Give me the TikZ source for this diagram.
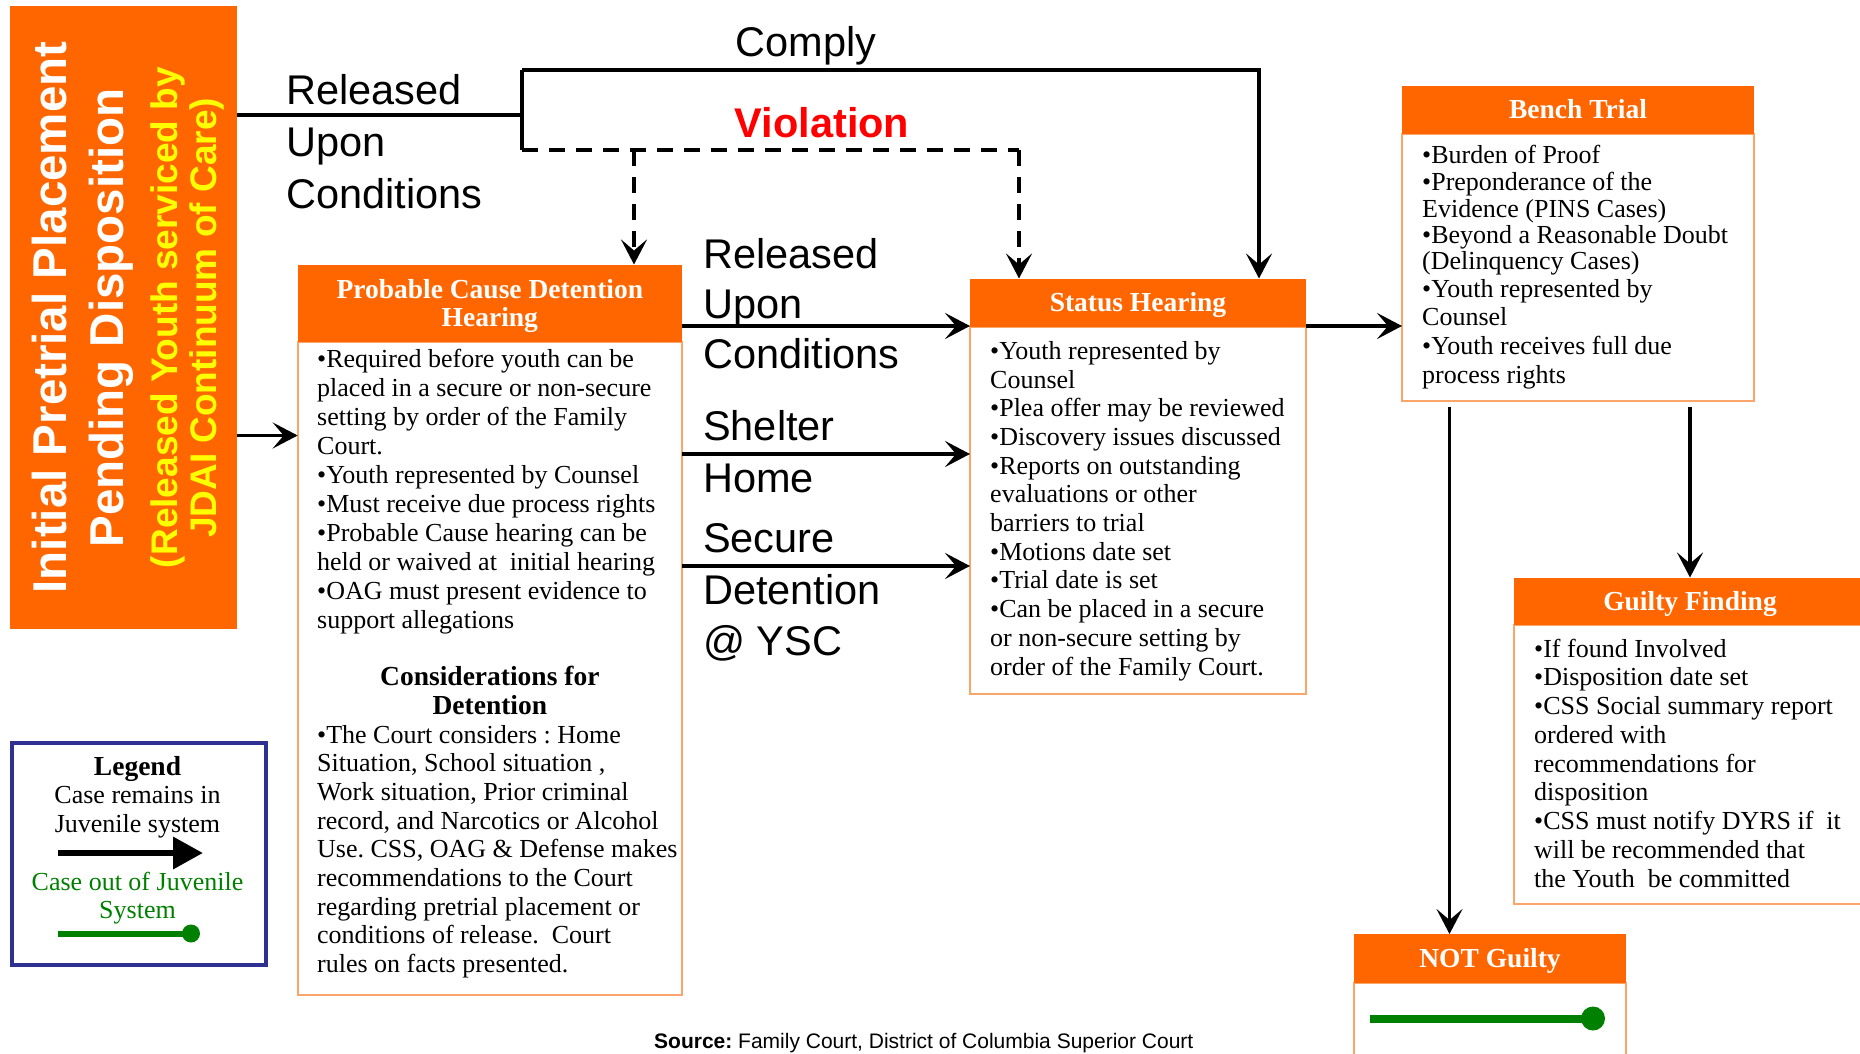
\documentclass[tikz,border=0pt]{standalone}
\usepackage{fontspec}
\setmainfont{Liberation Serif}
\newfontfamily\arialf{Liberation Sans}
\usetikzlibrary{arrows.meta}
\definecolor{orng}{HTML}{FF6600}
\definecolor{lorng}{HTML}{F9A56C}
\definecolor{navyb}{HTML}{2E3192}
\definecolor{okgreen}{HTML}{008000}
\definecolor{ylw}{HTML}{FFFF00}
\definecolor{redv}{HTML}{FF0000}
\frenchspacing
\tikzset{
  hdr/.style={rectangle, fill=orng, draw=none, inner sep=0pt, outer sep=0pt},
  bdy/.style={rectangle, draw=lorng, line width=2pt, fill=white, inner sep=0pt, outer sep=0pt},
  htxt/.style={text=white, font=\fontsize{27.5}{30}\selectfont\bfseries, inner sep=0pt, anchor=base},
  btxt/.style={font=\fontsize{26}{28.8}\selectfont, inner sep=0pt, anchor=base west},
  ctxt/.style={font=\fontsize{26}{28.8}\selectfont, inner sep=0pt, anchor=base},
  lbl/.style={font=\arialf\fontsize{41.5}{50}\selectfont, inner sep=0pt, anchor=base west},
  rottxt/.style={rotate=90, anchor=base, inner sep=0pt},
  wire/.style={line width=3.6pt},
  conn/.style={line width=3.6pt, -{Stealth[length=25pt,width=26pt,inset=11pt]}},
  dsh/.style={dash pattern=on 16pt off 11pt},
}
\begin{document}
\begin{tikzpicture}[x=1pt,y=-1pt]
\useasboundingbox (0,0) rectangle (1860,1054);
\clip (0,0) rectangle (1860,1054);
\fill[white] (0,0) rectangle (1860,1054);

% ---------- left box ----------
\node[hdr, minimum width=227.5pt, minimum height=623pt] (lb) at (123.25,317.5) {};
\node[rottxt, text=white, font=\arialf\bfseries\fontsize{47.5}{57}\selectfont] (lt1) at (66,317.5) {Initial Pretrial Placement};
\node[rottxt, text=white, font=\arialf\bfseries\fontsize{47.5}{57}\selectfont] (lt2) at (123,318) {Pending Disposition};
\node[rottxt, text=ylw, font=\arialf\bfseries\fontsize{37}{42}\selectfont] (ly1) at (177,317.5) {(Released Youth serviced by};
\node[rottxt, text=ylw, font=\arialf\bfseries\fontsize{37}{42}\selectfont] (ly2) at (216,318) {JDAI Continuum of Care)};

% ---------- top labels ----------
\node[lbl] (rl1) at (286,105) {Released};
\node[lbl] (rl2) at (286,157) {Upon};
\node[lbl] (rl3) at (286,208) {Conditions};
\node[lbl, anchor=base] (comply) at (806,57) {Comply};
\node[lbl, anchor=base, text=redv, font=\arialf\bfseries\fontsize{41.5}{50}\selectfont] (viol) at (822,137.5) {Violation};

% ---------- middle labels ----------
\node[lbl] (ml1) at (703,268) {Released};
\node[lbl] (ml2) at (703,318) {Upon};
\node[lbl] (ml3) at (703,368) {Conditions};
\node[lbl] (ml4) at (703,440) {Shelter};
\node[lbl] (ml5) at (703,492) {Home};
\node[lbl] (ml6) at (703,552) {Secure};
\node[lbl] (ml7) at (703,604) {Detention};
\node[lbl] (ml8) at (703,655) {@ YSC};

% ---------- Probable cause box ----------
\node[bdy, minimum width=384.3pt, minimum height=653.4pt] (pcb) at (489.85,668.3) {};
\node[hdr, minimum width=384.3pt, minimum height=77.1pt] (pch) at (489.85,303.05) {};
\node[htxt] (pct1) at (489.85,298) {Probable Cause Detention};
\node[htxt] (pct2) at (489.85,326.5) {Hearing};
\foreach \t [count=\i] in {%
 {•Required before youth can be},%
 {placed in a secure or non-secure},%
 {setting by order of the Family},%
 {Court.},%
 {•Youth represented by Counsel},%
 {•Must receive due process rights},%
 {•Probable Cause hearing can be},%
 {held or waived at~ initial hearing},%
 {•OAG must present evidence to},%
 {support allegations}}%
 {\node[btxt] (pca\i) at (317,{367+(\i-1)*29}) {\t};}
\node[ctxt, font=\fontsize{27.5}{30}\selectfont\bfseries] (cons1) at (489.85,685.5) {Considerations for};
\node[ctxt, font=\fontsize{27.5}{30}\selectfont\bfseries] (cons2) at (489.85,714) {Detention};
\foreach \t [count=\i] in {%
 {•The Court considers : Home},%
 {Situation, School situation ,},%
 {Work situation, Prior criminal},%
 {record, and Narcotics or Alcohol},%
 {Use. CSS, OAG \& Defense makes},%
 {recommendations to the Court},%
 {regarding pretrial placement or},%
 {conditions of release.~ Court},%
 {rules on facts presented.}}%
 {\node[btxt] (pcc\i) at (317,{743+(\i-1)*28.7}) {\t};}

% ---------- Status hearing ----------
\node[bdy, minimum width=336pt, minimum height=367pt] (stb) at (1138,510) {};
\node[hdr, minimum width=336pt, minimum height=48pt] (sth) at (1138,302.5) {};
\node[htxt] (stt) at (1138,311) {Status Hearing};
\foreach \t [count=\i] in {%
 {•Youth represented by},%
 {Counsel},%
 {•Plea offer may be reviewed},%
 {•Discovery issues discussed},%
 {•Reports on outstanding},%
 {evaluations or other},%
 {barriers to trial},%
 {•Motions date set},%
 {•Trial date is set},%
 {•Can be placed in a secure},%
 {or non-secure setting by},%
 {order of the Family Court.}}%
 {\node[btxt] (stl\i) at (990,{359.3+(\i-1)*28.7}) {\t};}

% ---------- Bench trial ----------
\node[bdy, minimum width=352pt, minimum height=266.5pt] (btb) at (1578,267.25) {};
\node[hdr, minimum width=352pt, minimum height=47.5pt] (bth) at (1578,110.25) {};
\node[htxt] (btt) at (1578,119) {Bench Trial};
\foreach \t/\yy [count=\i] in {%
 {•Burden of Proof}/163,%
 {•Preponderance of the}/190,%
 {Evidence (PINS Cases)}/217,%
 {•Beyond a Reasonable Doubt}/243,%
 {(Delinquency Cases)}/269,%
 {•Youth represented by}/297,%
 {Counsel}/325.5,%
 {•Youth receives full due}/354,%
 {process rights}/383}%
 {\node[btxt] (btl\i) at (1422,\yy) {\t};}

% ---------- Guilty finding ----------
\node[bdy, minimum width=352pt, minimum height=279pt] (gfb) at (1690,764.5) {};
\node[hdr, minimum width=352pt, minimum height=47.5pt] (gfh) at (1690,601.25) {};
\node[htxt] (gft) at (1690,610) {Guilty Finding};
\foreach \t [count=\i] in {%
 {•If found Involved},%
 {•Disposition date set},%
 {•CSS Social summary report},%
 {ordered with},%
 {recommendations for},%
 {disposition},%
 {•CSS must notify DYRS if~ it},%
 {will be recommended that},%
 {the Youth~ be committed}}%
 {\node[btxt] (gfl\i) at (1534,{657+(\i-1)*28.75}) {\t};}

% ---------- NOT guilty ----------
\node[bdy, minimum width=272pt, minimum height=97pt] (ngb) at (1490,1031.5) {};
\node[hdr, minimum width=272pt, minimum height=49pt] (ngh) at (1490,958.5) {};
\node[htxt] (ngt) at (1490,967) {NOT Guilty};
\coordinate (ng1) at (1370,1018.5);
\coordinate (ng2) at (1593,1018.5);
\draw[okgreen, line width=8pt] (ng1) -- (ng2);
\fill[okgreen] (ng2) circle[radius=12pt];

% ---------- Legend ----------
\node[draw=navyb, line width=4.5pt, fill=white, minimum width=254pt, minimum height=222pt, inner sep=0pt] (leg) at (138.75,854) {};
\node[ctxt, font=\fontsize{27.5}{30}\selectfont\bfseries] (lg0) at (137.5,775) {Legend};
\node[ctxt] (lg1) at (137.5,803.5) {Case remains in};
\node[ctxt] (lg2) at (137.5,832) {Juvenile system};
\coordinate (la1) at (58,853);
\coordinate (la2) at (203,853);
\draw[line width=6.5pt, -{Triangle[length=30pt,width=31pt]}] (la1) -- (la2);
\node[ctxt, text=okgreen] (lg3) at (137.5,890) {Case out of Juvenile};
\node[ctxt, text=okgreen] (lg4) at (137.5,918.5) {System};
\coordinate (lgg1) at (58,933.5);
\coordinate (lgg2) at (191,933.5);
\draw[okgreen, line width=6pt] (lgg1) -- (lgg2);
\fill[okgreen] (lgg2) circle[radius=9pt];

% ---------- Source ----------
\node[inner sep=0pt, anchor=base west, font=\arialf\fontsize{21}{25}\selectfont] (src) at (654,1048.5) {\textbf{Source:} Family Court, District of Columbia Superior Court};

% ---------- connectors ----------
\coordinate (jn) at (522,115);
\coordinate (jt) at (522,70);
\coordinate (jb) at (522,150);
\coordinate (ct) at (1259,70);
\coordinate (cb) at (1019,150);
\coordinate (cm) at (634,150);
\draw[wire] (lb.east |- jn) -- (jn);
\draw[wire] (jt) -- (jb);
\draw[conn, line join=miter] (jt) -- (ct) -- (ct |- sth.north);
\draw[wire, dsh] (jb) -- (cb);
\draw[conn, dsh] (cb) -- (cb |- sth.north);
\draw[conn, dsh] (cm) -- (cm |- pch.north);

\coordinate (ya) at (0,435.5);
\draw[conn] (lb.east |- ya) -- (pcb.west |- ya);

\coordinate (y1) at (0,326);
\coordinate (y2) at (0,454);
\coordinate (y3) at (0,566);
\draw[conn] (pch.east |- y1) -- (sth.west |- y1);
\draw[conn] (pcb.east |- y2) -- (stb.west |- y2);
\draw[conn] (pcb.east |- y3) -- (stb.west |- y3);
\draw[conn] (sth.east |- y1) -- (btb.west |- y1);

\coordinate (d1) at (1449.5,407);
\coordinate (d2) at (1690,407);
\draw[conn] (d1) -- (d1 |- ngh.north);
\draw[conn] (d2) -- (d2 |- gfh.north);
\end{tikzpicture}
\end{document}
